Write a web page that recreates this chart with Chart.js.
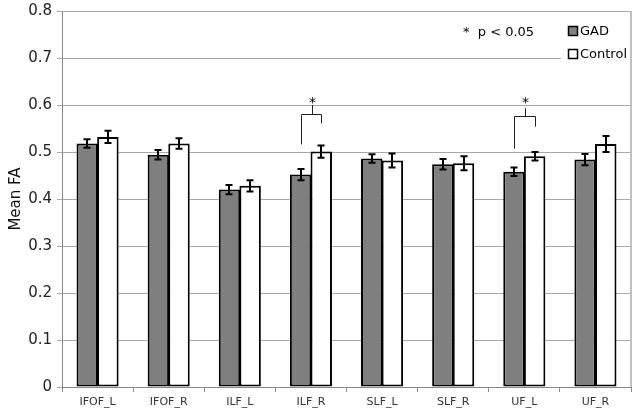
<!DOCTYPE html>
<html>
<head>
<meta charset="utf-8">
<script src="https://cdn.jsdelivr.net/npm/chart.js@4"></script>
<style>
  html, body { margin: 0; padding: 0; background: #fff; }
  #wrap { width: 638px; height: 416px; }
</style>
</head>
<body>
<div id="wrap"><canvas id="c"></canvas></div>
<script>
"use strict";

const categories = ["IFOF_L", "IFOF_R", "ILF_L", "ILF_R", "SLF_L", "SLF_R", "UF_L", "UF_R"];
const gadMean = [0.518, 0.494, 0.420, 0.452, 0.486, 0.474, 0.458, 0.484];
const gadErr = [0.009, 0.010, 0.010, 0.012, 0.009, 0.011, 0.009, 0.012];
const ctlMean = [0.532, 0.518, 0.428, 0.501, 0.482, 0.476, 0.491, 0.517];
const ctlErr = [0.013, 0.011, 0.012, 0.013, 0.015, 0.015, 0.009, 0.017];
const yTicks = [0, 0.1, 0.2, 0.3, 0.4, 0.5, 0.6, 0.7, 0.8];

// significance brackets: category index, leg ends, bar top, tick top, star level
const sigCats = [3, 6];
const sigLeft = [0.516, 0.507];
const sigRight = [0.561, 0.554];
const sigTop = [0.580, 0.576];
const sigTick = [0.600, 0.593];
const sigStar = [0.612, 0.612];

const FONT = "'DejaVu Sans', Verdana, sans-serif";

const overlay = {
  id: "overlay",
  afterDatasetsDraw(chart) {
    const ctx = chart.ctx;
    const y = chart.scales.y;
    const area = chart.chartArea;

    // error bars
    const errs = [gadErr, ctlErr];
    const means = [gadMean, ctlMean];
    ctx.save();
    ctx.strokeStyle = "#000";
    ctx.lineWidth = 2;
    chart.data.datasets.forEach((ds, di) => {
      chart.getDatasetMeta(di).data.forEach((bar, i) => {
        const x = Math.round(bar.x);
        const top = y.getPixelForValue(means[di][i] + errs[di][i]);
        const bot = y.getPixelForValue(means[di][i] - errs[di][i]);
        ctx.beginPath();
        ctx.moveTo(x, top); ctx.lineTo(x, bot);
        ctx.moveTo(x - 3.5, top); ctx.lineTo(x + 3.5, top);
        ctx.moveTo(x - 3.5, bot); ctx.lineTo(x + 3.5, bot);
        ctx.stroke();
      });
    });

    // significance brackets
    ctx.lineWidth = 1;
    ctx.strokeStyle = "#222";
    ctx.fillStyle = "#000";
    ctx.font = "14px " + FONT;
    ctx.textAlign = "center";
    ctx.textBaseline = "middle";
    sigCats.forEach((c, k) => {
      const xl = Math.round(chart.getDatasetMeta(0).data[c].x) + 0.5;
      const xr = Math.round(chart.getDatasetMeta(1).data[c].x) + 0.5;
      const xm = Math.round((xl + xr) / 2) + 0.5;
      const yt = Math.round(y.getPixelForValue(sigTop[k])) + 0.5;
      ctx.beginPath();
      ctx.moveTo(xl, y.getPixelForValue(sigLeft[k]));
      ctx.lineTo(xl, yt);
      ctx.lineTo(xr, yt);
      ctx.lineTo(xr, y.getPixelForValue(sigRight[k]));
      ctx.moveTo(xm, yt);
      ctx.lineTo(xm, y.getPixelForValue(sigTick[k]));
      ctx.stroke();
      ctx.fillText("*", xm, y.getPixelForValue(sigStar[k]) + 4);
    });

    // p-value note
    ctx.font = "13px " + FONT;
    ctx.textAlign = "left";
    ctx.fillText("*  p < 0.05", 463, 33);

    // legend
    ctx.fillStyle = "#fff";
    ctx.fillRect(561, 20, area.right - 562, 46);
    const items = [["GAD", "#808080", 31], ["Control", "#ffffff", 54]];
    ctx.font = "13px " + FONT;
    items.forEach(([label, color, ly]) => {
      ctx.fillStyle = color;
      ctx.fillRect(568.5, ly - 4.5, 9, 9);
      ctx.lineWidth = 1.5;
      ctx.strokeStyle = "#000";
      ctx.strokeRect(568.5, ly - 4.5, 9, 9);
      ctx.fillStyle = "#000";
      ctx.fillText(label, 580, ly + 1);
    });
    ctx.restore();
  },
};

new Chart(document.getElementById("c"), {
  type: "bar",
  data: {
    labels: categories,
    datasets: [
      {
        label: "GAD",
        data: gadMean,
        backgroundColor: "#7f7f7f",
        borderColor: "#000",
        borderWidth: 2,
        borderSkipped: false,
        categoryPercentage: 0.58,
        barPercentage: 1.04,
      },
      {
        label: "Control",
        data: ctlMean,
        backgroundColor: "#ffffff",
        borderColor: "#000",
        borderWidth: 2,
        borderSkipped: false,
        categoryPercentage: 0.58,
        barPercentage: 1.04,
      },
    ],
  },
  options: {
    responsive: true,
    maintainAspectRatio: false,
    animation: false,
    layout: { padding: { left: 0, right: 7, top: 0, bottom: 0 } },
    plugins: { legend: { display: false }, tooltip: { enabled: false } },
    scales: {
      x: {
        offset: true,
        grid: {
          offset: true,
          drawOnChartArea: false,
          drawTicks: true,
          tickLength: 5,
          color: "#888",
        },
        border: { color: "#888", width: 1 },
        ticks: { color: "#333", font: { family: FONT, size: 11 }, padding: 4, maxRotation: 0 },
        afterFit(s) { s.height = 29; },
      },
      y: {
        min: 0,
        max: 0.8,
        afterBuildTicks(s) { s.ticks = yTicks.map((v) => ({ value: v })); },
        grid: { color: "#a8a8a8", tickLength: 5, drawTicks: true },
        border: { color: "#888", width: 1 },
        ticks: {
          color: "#222",
          font: { family: FONT, size: 15, lineHeight: 0.8 },
          padding: 5,
          callback: (v) => (v === 0 ? "0" : v.toFixed(1)),
        },
        title: { display: true, text: "Mean FA", color: "#111", font: { family: FONT, size: 15 }, padding: { top: 7, bottom: 0 } },
        afterFit(s) { s.width = 62; },
      },
    },
  },
  plugins: [
    overlay,
    {
      id: "rightBorder",
      beforeDatasetsDraw(chart) {
        const { ctx, chartArea: a } = chart;
        ctx.save();
        ctx.strokeStyle = "#c0c0c0";
        ctx.lineWidth = 2;
        ctx.beginPath();
        ctx.moveTo(a.right, a.top);
        ctx.lineTo(a.right, a.bottom);
        ctx.stroke();
        ctx.restore();
      },
    },
  ],
});
</script>
</body>
</html>
